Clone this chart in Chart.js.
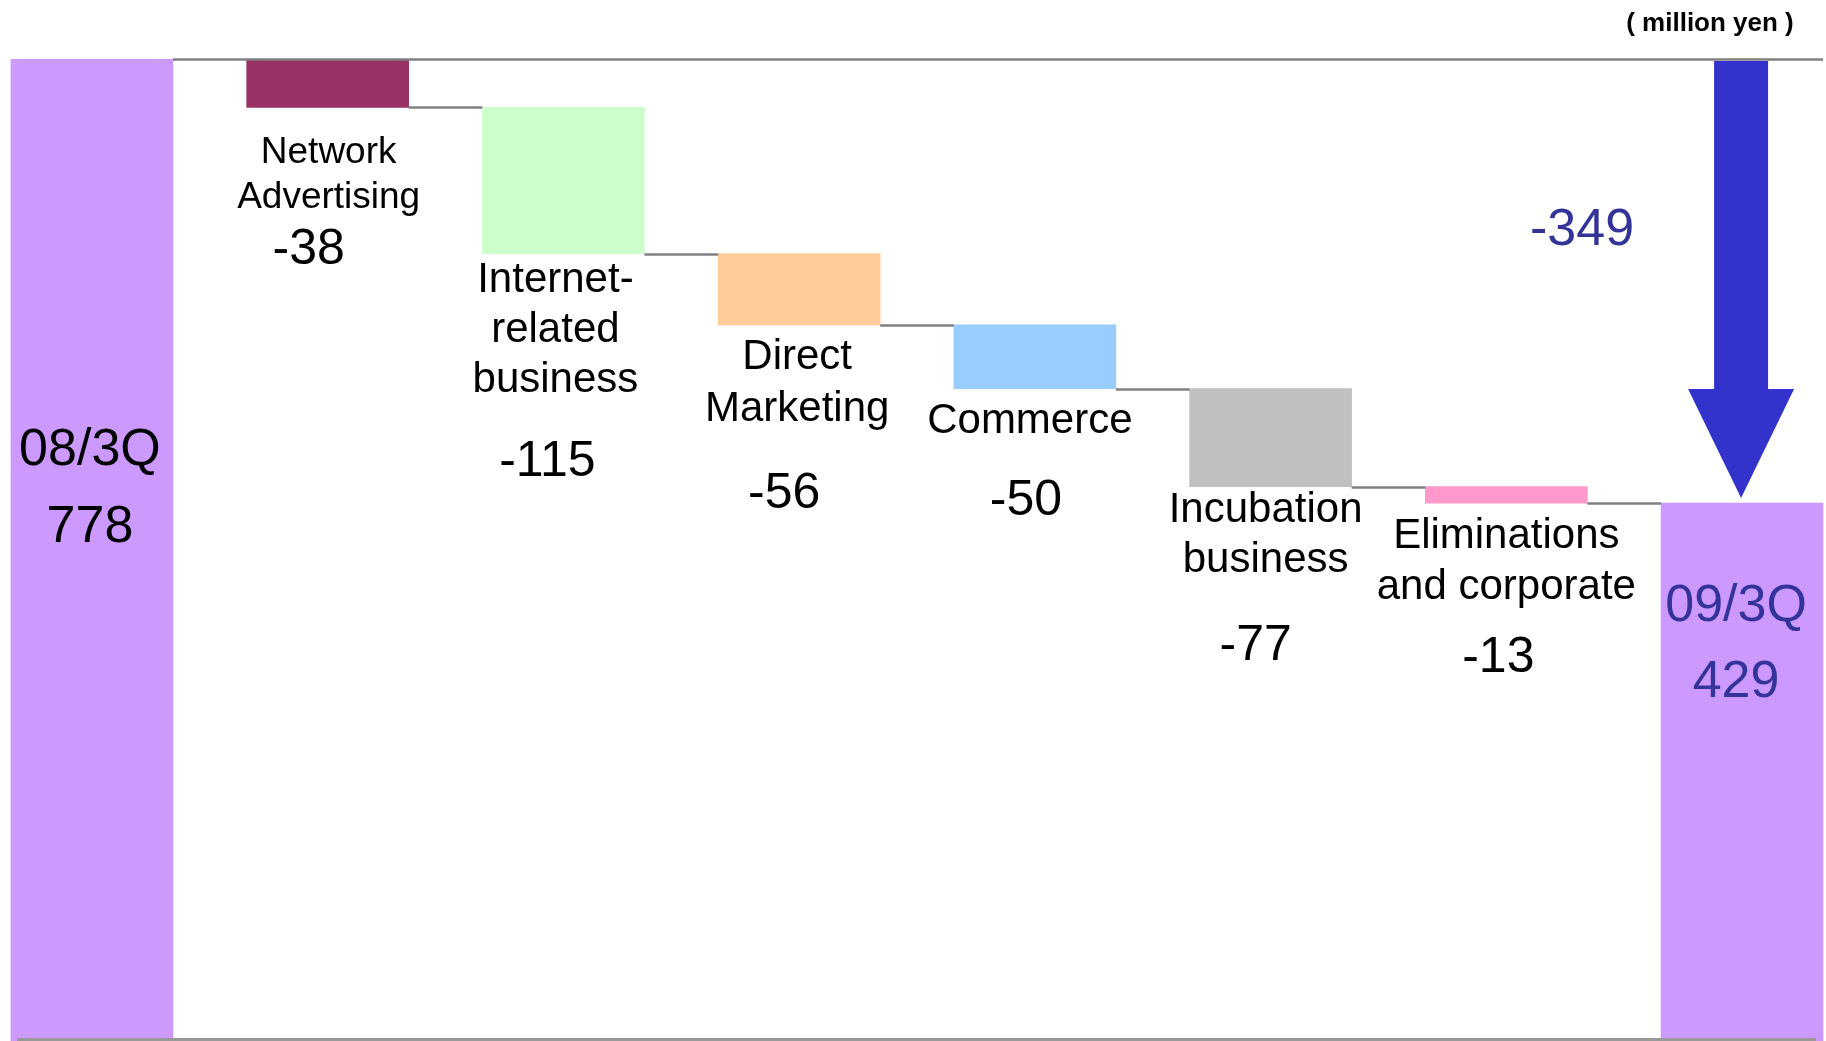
<!DOCTYPE html>
<html>
<head>
<meta charset="utf-8">
<title>Operating income bridge</title>
<script src="https://cdn.jsdelivr.net/npm/chart.js@4.4.1/dist/chart.umd.min.js"></script>
<style>
  html, body { margin: 0; padding: 0; background: #ffffff; overflow: hidden; }
  /* the plot runs a little below the visible page, so the bars look cut at the baseline */
  #wrap { position: relative; width: 1826px; height: 1041px; overflow: hidden; }
</style>
</head>
<body>
<div id="wrap"><canvas id="bridge" width="1826" height="1051"></canvas></div>
<script>
// segment names, left total to right total
const categories = ['08/3Q', 'Network Advertising', 'Internet-related business', 'Direct Marketing',
  'Commerce', 'Incubation business', 'Eliminations and corporate', '09/3Q'];
const labelLines = [
  ['Network', 'Advertising'],
  ['Internet-', 'related', 'business'],
  ['Direct', 'Marketing'],
  ['Commerce'],
  ['Incubation', 'business'],
  ['Eliminations', 'and corporate']
];
const startTotal = 778;
const changes = [-38, -115, -56, -50, -77, -13];
const endTotal = 429;
const netChange = -349;
const unitLabel = '( million yen )';

const barColors = ['#CC99FF', '#993366', '#CCFFCC', '#FFCC99', '#99CCFF', '#C0C0C0', '#FF99CC', '#CC99FF'];

// where the text sits under each change bar (px from the bar's bottom / centre)
const labelLayout = [
  { size: 37, first: 56, step: 45, dx: 1, valueY: 157, valueDx: -19 },
  { size: 42, first: 38, step: 50, dx: -8, valueY: 222, valueDx: -16 },
  { size: 42, first: 44, step: 52, dx: -2, valueY: 183, valueDx: -15 },
  { size: 42, first: 44, step: 50, dx: -5, valueY: 126, valueDx: -9 },
  { size: 42, first: 35, step: 50, dx: -5, valueY: 173, valueDx: -15 },
  { size: 42, first: 45, step: 51, dx: 0, valueY: 169, valueDx: -8 }
];

// floating ranges for the waterfall
const ranges = [[0, startTotal]];
let running = startTotal;
changes.forEach(c => {
  ranges.push([running + c, running]);
  running += c;
});
ranges.push([0, endTotal]);

const FONT = '"Liberation Sans", Arial, Helvetica, sans-serif';
const VISIBLE_BOTTOM = 1039.5;

const waterfallExtras = {
  id: 'waterfallExtras',
  afterDatasetsDraw(chart) {
    const ctx = chart.ctx;
    const bars = chart.getDatasetMeta(0).data;
    const yScale = chart.scales.y;
    const area = chart.chartArea;

    // connector lines between neighbouring bars
    ctx.save();
    ctx.strokeStyle = '#808080';
    ctx.lineWidth = 2.5;
    for (let i = 0; i < bars.length - 1; i++) {
      const level = i === 0 ? startTotal : ranges[i][0];
      const y = Math.round(yScale.getPixelForValue(level)) + 0.5;
      const x1 = bars[i].x + bars[i].width / 2;
      const x2 = i === 0 ? area.right - 3 : bars[i + 1].x - bars[i + 1].width / 2;
      ctx.beginPath();
      ctx.moveTo(x1, y);
      ctx.lineTo(x2, y);
      ctx.stroke();
    }

    // baseline along the bottom of the page
    ctx.strokeStyle = '#999999';
    ctx.lineWidth = 3;
    ctx.beginPath();
    ctx.moveTo(17, VISIBLE_BOTTOM);
    ctx.lineTo(1816, VISIBLE_BOTTOM);
    ctx.stroke();
    ctx.restore();

    // segment names and values
    ctx.save();
    ctx.textAlign = 'center';
    ctx.textBaseline = 'alphabetic';
    ctx.fillStyle = '#000000';
    changes.forEach((c, i) => {
      const bar = bars[i + 1];
      const lay = labelLayout[i];
      const bottom = Math.max(bar.y, bar.base);
      ctx.font = lay.size + 'px ' + FONT;
      labelLines[i].forEach((line, j) => {
        ctx.fillText(line, bar.x + lay.dx, bottom + lay.first + j * lay.step);
      });
      ctx.font = '50px ' + FONT;
      ctx.fillText(String(c), bar.x + lay.valueDx, bottom + lay.valueY);
    });

    // totals
    ctx.font = '52px ' + FONT;
    const first = bars[0];
    ctx.fillStyle = '#000000';
    ctx.fillText(categories[0], first.x - 2, first.y + 406);
    ctx.fillText(String(startTotal), first.x - 2, first.y + 483);
    const last = bars[bars.length - 1];
    ctx.fillStyle = '#333399';
    ctx.fillText(categories[categories.length - 1], last.x - 6, last.y + 118);
    ctx.fillText(String(endTotal), last.x - 6, last.y + 194);

    // net change arrow
    const ax = last.x - 1;
    const top = yScale.getPixelForValue(startTotal) + 2;
    const tip = yScale.getPixelForValue(endTotal) - 5;
    const headLen = 109;
    ctx.fillStyle = '#3333CC';
    ctx.beginPath();
    ctx.moveTo(ax - 27, top);
    ctx.lineTo(ax + 27, top);
    ctx.lineTo(ax + 27, tip - headLen);
    ctx.lineTo(ax + 53, tip - headLen);
    ctx.lineTo(ax, tip);
    ctx.lineTo(ax - 53, tip - headLen);
    ctx.lineTo(ax - 27, tip - headLen);
    ctx.closePath();
    ctx.fill();

    ctx.fillStyle = '#333399';
    ctx.font = '52px ' + FONT;
    ctx.fillText(String(netChange), ax - 159, 245);

    // unit note
    ctx.fillStyle = '#000000';
    ctx.font = 'bold 26px ' + FONT;
    ctx.fillText(unitLabel, 1710, 31);
    ctx.restore();
  }
};

new Chart(document.getElementById('bridge'), {
  type: 'bar',
  data: {
    datasets: [{
      data: ranges.map((r, i) => ({ x: i, y: r })),
      backgroundColor: barColors,
      borderWidth: 0,
      barThickness: 162
    }]
  },
  options: {
    responsive: false,
    animation: false,
    devicePixelRatio: 1,
    layout: { padding: { top: 59, bottom: 2, left: 0, right: 0 } },
    scales: {
      x: { type: 'linear', offset: false, min: -0.39, max: 7.356, display: false },
      y: { min: 0, max: startTotal, display: false }
    },
    plugins: {
      legend: { display: false },
      tooltip: { enabled: false }
    }
  },
  plugins: [waterfallExtras]
});
</script>
</body>
</html>
